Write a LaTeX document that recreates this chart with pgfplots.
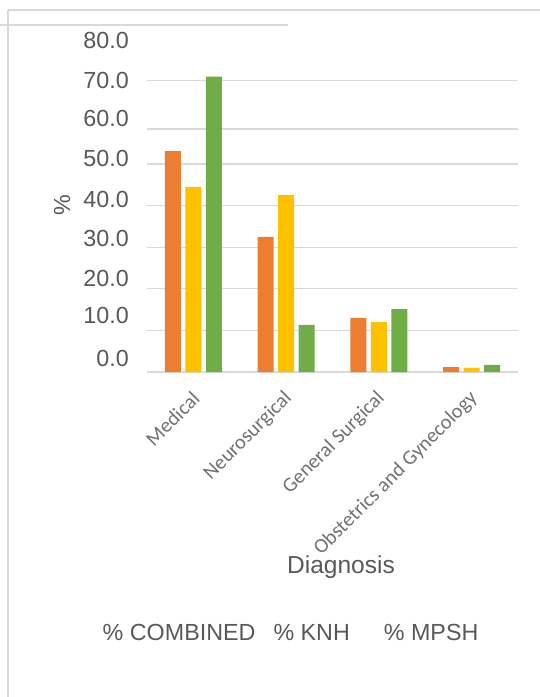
\documentclass[border=0pt]{standalone}
\usepackage{pgfplots}
\pgfplotsset{compat=1.18}
\usepackage{fontspec}
\setmainfont{Liberation Sans}
\newfontfamily\calibri{Carlito}
\definecolor{cOrange}{HTML}{ED7D31}
\definecolor{cYellow}{HTML}{FFC000}
\definecolor{cGreen}{HTML}{70AD47}
\definecolor{cGrid}{HTML}{D9D9D9}
\definecolor{cText}{HTML}{595959}
\newcommand\bigf{\fontsize{23.3pt}{28pt}\selectfont}
\begin{document}
\begin{tikzpicture}[x=1pt,y=1pt]
\useasboundingbox (0,0) rectangle (540,697);
\fill[white] (0,0) rectangle (540,697);
\draw[cGrid, line width=1.5pt] (8,687) -- (540,687);
\draw[cGrid, line width=1.5pt] (8,687) -- (8,0);
\draw[cGrid, line width=1.5pt] (0,672) -- (288,672);
\begin{axis}[
  at={(147pt,325pt)}, anchor=south west,
  scale only axis, width=371pt, height=332.8pt,
  xmin=-0.5, xmax=3.5, ymin=0, ymax=80,
  axis line style={draw=none},
  major tick length=0pt,
  ybar=4.5pt, bar width=16pt,
  xtick={0,1,2,3},
  xticklabels={Medical,Neurosurgical,General Surgical,Obstetrics and Gynecology},
  x tick label style={font=\calibri\fontsize{20.5pt}{24pt}\selectfont, xshift=5pt, yshift=-21pt, rotate=45, anchor=east, text=cText!85},
  ytick={3.37,13.70,22.60,32.21,41.59,51.44,61.06,70.19,79.81},
  yticklabels={0.0,10.0,20.0,30.0,40.0,50.0,60.0,70.0,80.0},
  y tick label style={font=\bigf, text=cText, anchor=east, inner sep=0pt, xshift=-18pt},
  extra y ticks={0,10,20,30,40,50,58.4,70},
  extra y tick labels={},
  extra y tick style={grid=major, major grid style={cGrid, line width=1.3pt}},
  ylabel={\%},
  ylabel style={at={(axis description cs:-0.229,0.502)}, anchor=center, font=\bigf, text=cText},
  xlabel={Diagnosis},
  xlabel style={at={(axis description cs:0.523,-0.586)}, anchor=center, font=\fontsize{24.5pt}{29pt}\selectfont, text=cText},
  legend image code/.code={},
  legend columns=3,
  legend style={draw=none, fill=none, at={(axis description cs:0.387,-0.784)}, anchor=center,
    font=\bigf, text=cText, nodes={inner sep=0pt},
    /tikz/every even column/.append style={column sep=0pt}},
]
\addplot[fill=cOrange, draw=none] coordinates {(0,53.1) (1,32.5) (2,13.0) (3,1.2)};
\addplot[fill=cYellow, draw=none] coordinates {(0,44.5) (1,42.5) (2,12.0) (3,1.0)};
\addplot[fill=cGreen, draw=none] coordinates {(0,71.0) (1,11.3) (2,15.1) (3,1.7)};
\legend{{\% COMBINED\rule{18pt}{0pt}},{\% KNH\rule{34pt}{0pt}},{\% MPSH}}
\end{axis}
\end{tikzpicture}
\end{document}
